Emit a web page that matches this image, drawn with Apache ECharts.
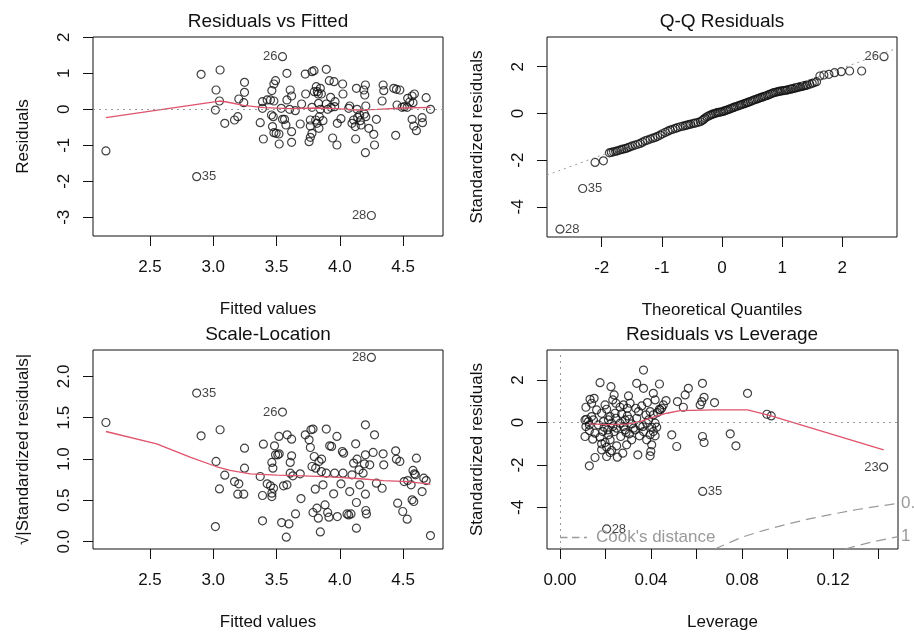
<!DOCTYPE html>
<html>
<head>
<meta charset="utf-8">
<script src="https://cdn.jsdelivr.net/npm/echarts@6/dist/echarts.min.js"></script>
<style>
  html, body { margin: 0; padding: 0; background: #fff; }
  #chart { width: 914px; height: 632px; }
</style>
</head>
<body>
<div id="chart"></div>
<script>
// Residuals vs Fitted
const rvfFitted = [2.152,2.869,3.547,4.249,2.904,3.054,3.022,3.049,3.017,3.091,
  3.168,3.194,3.202,3.247,3.247,3.241,3.371,3.389,3.389,3.396,
  3.426,3.452,3.479,3.463,3.479,3.492,3.460,3.474,3.468,3.479,
  3.497,3.519,3.521,3.547,3.563,3.574,3.537,3.582,3.582,3.608,
  3.619,3.603,3.648,3.619,3.619,3.687,3.698,3.727,3.730,3.757,
  3.767,3.780,3.767,3.767,3.780,3.780,3.796,3.798,3.814,3.822,
  3.830,3.846,3.854,3.832,3.846,3.838,3.819,3.835,3.809,3.867,
  3.893,3.893,3.904,3.917,3.927,3.930,3.943,3.954,3.962,3.959,
  3.977,3.980,4.022,4.025,4.009,4.070,4.078,4.096,4.109,4.122,
  4.131,4.136,4.141,4.125,4.157,4.162,4.168,4.189,4.197,4.202,
  4.205,4.194,4.205,4.202,4.229,4.268,4.274,4.289,4.334,4.342,
  4.347,4.426,4.447,4.474,4.441,4.452,4.492,4.510,4.532,4.536,
  4.552,4.571,4.578,4.589,4.571,4.584,4.605,4.650,4.653,4.682,4.716];
const rvfResid = [-1.157,-1.87,1.463,-2.95,0.972,1.093,0.537,0.231,-0.02,-0.389,
  -0.296,-0.204,0.287,0.75,0.472,0.185,-0.37,0.213,0.028,-0.824,
  0.26,0.26,0.231,0.52,0.704,0.796,-0.157,-0.204,-0.48,-0.648,
  -0.667,-0.685,-0.963,-0.278,-0.278,-0.435,0.028,1.0,0.26,0.537,
  0.37,0,-0.037,-0.62,-0.917,-0.407,0.148,0.981,0.426,-0.898,
  -0.778,-0.667,-0.463,-0.296,0.056,1.046,1.074,0.491,0.63,0.491,
  0.426,0.583,0.426,0.167,0,-0.204,-0.389,-0.528,-0.296,-0.315,
  1.111,0.148,0,0.796,0.333,0.056,-0.796,0.769,0.213,0.074,
  -0.991,-0.389,0.704,0.426,-0.259,0.028,0.093,-0.389,-0.296,-0.48,
  0.583,0,-0.222,-0.824,-0.157,-0.315,-0.435,0.537,0.398,0.676,
  0.093,-0.13,-0.204,-1.204,-0.528,-0.694,-0.991,-0.278,0.231,0.676,
  0.519,0.583,0.556,0.537,-0.722,0.12,0.056,0.074,0.056,0.306,
  0.204,0.37,0.185,0.426,-0.278,-0.463,-0.593,-0.231,-0.37,0.324,0];
const rvfSmoothX = [2.152,3.049,3.107,3.239,3.397,3.608,3.819,3.977,4.136,4.294,4.505,4.716];
const rvfSmoothY = [-0.231,0.231,0.204,0.111,0.046,0.019,0.037,0.019,-0.019,0,0.037,0.056];
const rvfIdNames = ['26','35','28'];
const rvfIdX = [3.547,2.869,4.249];
const rvfIdY = [1.463,-1.87,-2.95];

// Q-Q Residuals
const qqTheo = [-2.694,-2.317,-2.111,-1.972,
  -1.872,-1.84,-1.806,-1.77,-1.739,-1.70,-1.667,-1.63,-1.594,-1.56,
  -1.528,-1.49,-1.444,-1.40,-1.361,-1.32,-1.278,-1.24,-1.194,-1.15,
  -1.111,-1.07,-1.028,-0.99,-0.944,-0.90,-0.861,-0.82,-0.778,-0.74,
  -0.694,-0.65,-0.61,-0.583,-0.55,-0.52,-0.472,-0.44,-0.40,-0.361,
  -0.33,-0.306,-0.28,-0.25,-0.22,-0.19,-0.167,-0.14,-0.11,-0.083,
  -0.055,-0.028,0,0.028,0.055,0.083,0.11,0.14,0.167,0.194,
  0.22,0.25,0.28,0.306,0.33,0.36,0.39,0.417,0.44,0.47,
  0.50,0.528,0.555,0.585,0.61,0.639,0.665,0.695,0.72,0.75,
  0.78,0.805,0.835,0.861,0.89,0.92,0.945,0.972,1.00,1.03,
  1.055,1.083,1.11,1.14,1.165,1.194,1.22,1.25,1.28,1.306,
  1.335,1.36,1.39,1.417,1.46,1.5,1.535,1.572,
  1.628,1.694,1.778,1.872,1.983,2.122,2.322,2.694];
const qqStd = [-4.957,-3.214,-2.1,-2.029,
  -1.686,-1.665,-1.643,-1.62,-1.6,-1.57,-1.543,-1.52,-1.5,-1.46,
  -1.429,-1.39,-1.357,-1.32,-1.286,-1.23,-1.171,-1.14,-1.1,-1.06,
  -1.029,-0.98,-0.929,-0.87,-0.814,-0.76,-0.714,-0.68,-0.643,-0.61,
  -0.571,-0.545,-0.52,-0.5,-0.48,-0.46,-0.429,-0.41,-0.38,-0.357,
  -0.30,-0.257,-0.20,-0.143,-0.11,-0.07,-0.043,-0.02,0.005,0.029,
  0.045,0.058,0.071,0.095,0.12,0.143,0.17,0.20,0.228,0.257,
  0.28,0.307,0.333,0.357,0.38,0.405,0.43,0.457,0.48,0.51,
  0.54,0.571,0.595,0.62,0.645,0.671,0.695,0.72,0.745,0.771,
  0.80,0.83,0.86,0.886,0.905,0.925,0.94,0.957,0.968,0.978,
  0.99,1.0,1.018,1.035,1.053,1.071,1.09,1.107,1.125,1.143,
  1.16,1.178,1.196,1.214,1.25,1.286,1.32,1.357,
  1.6,1.643,1.671,1.743,1.786,1.814,1.814,2.429];
const qqLineX = [-2.91, 2.91];
const qqLineY = [-2.637, 2.787];
const qqIdNames = ['26','35','28'];
const qqIdX = [2.694,-2.317,-2.694];
const qqIdY = [2.429,-3.214,-4.957];

// Scale-Location
const slFitted = [4.249,2.869,3.547,2.152,2.904,3.054,3.022,3.049,3.017,3.091,
  3.168,3.194,3.202,3.247,3.247,3.241,3.371,3.389,3.389,3.396,
  3.426,3.452,3.463,3.463,3.471,3.484,3.492,3.510,3.521,3.463,
  3.476,3.519,3.540,3.555,3.577,3.584,3.582,3.598,3.608,3.619,
  3.619,3.608,3.629,3.650,3.687,3.693,3.727,3.757,3.767,3.772,
  3.788,3.780,3.788,3.798,3.809,3.806,3.819,3.830,3.835,3.846,
  3.854,3.856,3.867,3.883,3.893,3.893,3.904,3.914,3.920,3.935,
  3.951,3.959,3.977,3.980,4.009,4.020,4.030,4.025,4.057,4.070,
  4.078,4.088,4.096,4.109,4.125,4.131,4.131,4.136,4.152,4.157,
  4.184,4.194,4.202,4.202,4.202,4.205,4.210,4.236,4.263,4.274,
  4.289,4.334,4.342,4.347,4.441,4.447,4.457,4.474,4.497,4.532,
  4.536,4.563,4.571,4.578,4.589,4.605,4.597,4.650,4.663,4.682,
  4.716,4.508,4.584];
const slRoot = [2.230,1.798,1.568,1.442,1.281,1.354,0.97,0.638,0.182,0.804,
  0.727,0.574,0.699,1.131,0.889,0.574,0.788,0.558,0.251,1.18,
  0.699,0.675,0.545,0.958,0.889,1.16,1.051,1.051,1.063,0.586,
  0.646,1.273,0.23,0.675,0.053,1.293,0.687,0.214,0.958,1.038,
  1.24,0.828,0.796,0.335,0.82,0.521,1.293,1.232,1.139,1.354,
  1.362,0.909,0.352,1.03,0.889,0.634,0.404,0.283,0.97,0.117,
  0.848,0.998,0.687,0.444,1.362,0.828,0.352,0.295,1.16,1.152,
  0.578,0.828,1.273,0.303,0.699,1.091,1.071,0.828,0.335,0.323,
  0.606,0.335,0.808,0.95,1.184,0.473,0.162,0.998,0.869,0.687,
  0.828,0.941,1.051,1.414,0.574,0.376,0.335,0.929,1.079,1.293,
  0.707,0.646,1.063,0.929,1.099,0.998,0.465,0.97,0.364,0.271,
  0.739,0.687,0.505,0.861,0.82,1.01,0.808,0.606,0.768,0.739,
  0.073,0.727,0.485];
const slSmoothX = [2.152,2.553,2.817,3.022,3.133,3.292,3.503,3.714,3.925,4.136,4.347,4.532,4.716];
const slSmoothY = [1.333,1.184,1.022,0.909,0.861,0.82,0.804,0.796,0.784,0.764,0.739,0.727,0.695];
const slIdNames = ['28','35','26'];
const slIdX = [4.249,2.869,3.547];
const slIdY = [2.230,1.798,1.568];

// Residuals vs Leverage
const rvlLev = [0.1422,0.0627,0.0205,
  0.0367,0.0176,0.0224,0.0337,0.0367,0.0437,0.0564,0.0626,0.0824,0.0238,
  0.0301,0.0410,0.0550,0.0114,0.0132,0.0150,0.0139,0.0198,0.0232,0.0246,
  0.0264,0.0279,0.0296,0.0308,0.0333,0.0384,0.0418,0.0437,0.0454,0.0466,
  0.0516,0.0542,0.0616,0.0623,0.0633,0.0679,0.0909,0.0928,0.0117,0.0129,
  0.0147,0.0169,0.0191,0.0213,0.0227,0.0246,0.0264,0.0286,0.0296,0.0315,
  0.0337,0.0352,0.0378,0.0389,0.0396,0.0410,0.0418,0.0428,0.0440,0.0447,
  0.0110,0.0129,0.0144,0.0154,0.0176,0.0188,0.0198,0.0205,0.0213,0.0220,
  0.0227,0.0238,0.0249,0.0252,0.0267,0.0276,0.0286,0.0293,0.0305,0.0315,
  0.0323,0.0342,0.0349,0.0367,0.0381,0.0396,0.0403,0.0399,0.0396,0.0418,
  0.0491,0.0513,0.0626,0.0633,0.0748,0.0773,0.0183,0.0154,0.0129,0.0205,
  0.0220,0.0183,0.0110,0.0125,0.0114,0.0139,0.0161,0.0183,0.0205,0.0220,
  0.0242,0.0271,0.0279,0.0290,0.0330,0.0345,0.0359,0.0364,0.0381,0.0403,
  0.0425,0.0410,0.0194,0.0210,0.0232,0.0249,0.0305];
const rvlStd = [-2.10,-3.245,-5.016,
  2.476,1.881,1.693,1.85,1.614,1.818,1.614,1.85,1.379,1.301,
  1.254,1.379,1.301,0.721,1.097,1.144,0.909,0.831,1.066,0.909,
  0.721,0.831,0.674,0.909,0.674,0.94,1.066,0.627,0.831,1.034,
  0.987,0.721,0.831,0.987,1.191,0.94,0.392,0.313,0.157,-0.11,
  0.125,-0.11,0.047,0.125,-0.031,0.204,-0.031,0.125,0.313,-0.063,
  0.204,-0.157,0.361,0.125,0.517,0.361,-0.031,0.47,0.596,0.674,
  -0.658,-0.376,-0.784,-0.502,-0.69,-0.423,-0.94,-1.16,-0.58,-0.815,
  -1.317,-0.423,-1.097,-1.63,-0.658,-1.442,-0.345,-1.05,-0.533,-0.815,
  -0.266,-1.52,-0.627,-0.423,-0.815,-0.58,-1.05,-1.364,-1.567,-0.627,
  -0.58,-1.129,-0.658,-0.94,-0.533,-1.097,-1.285,-1.646,-2.038,-1.599,
  -1.411,-1.003,0.125,0.047,-0.188,0.282,0.596,0.439,0.627,0.282,
  0.439,0.408,-0.188,-0.47,-0.345,0.517,0.784,-0.188,-0.031,-0.219,
  -0.219,-0.423,-0.219,-0.345,-0.188,-0.266,0.157];
const rvlSmoothX = [0.0129,0.0205,0.0293,0.0352,0.0410,0.0469,0.0528,0.0674,0.0824,0.0924,0.1422];
const rvlSmoothY = [-0.063,-0.094,-0.078,0.047,0.251,0.439,0.564,0.596,0.596,0.329,-1.285];
const cookHalfX = [0.068,0.08,0.09,0.10,0.11,0.12,0.13,0.14,0.1485];
const cookHalfY = [-5.96,-5.40,-5.07,-4.78,-4.53,-4.31,-4.11,-3.94,-3.81];
const cookOneX = [0.1253,0.135,0.1485];
const cookOneY = [-5.96,-5.68,-5.38];
const rvlIdNames = ['23','35','28'];
const rvlIdX = [0.1422,0.0627,0.0205];
const rvlIdY = [-2.10,-3.245,-5.016];

// tick values
const fittedTicks = [2.5, 3.0, 3.5, 4.0, 4.5];
const residTicks = [-3, -2, -1, 0, 1, 2];
const qqXTicks = [-2, -1, 0, 1, 2];
const stdTicks = [-4, -2, 0, 2];
const rootTicks = [0, 0.5, 1.0, 1.5, 2.0];
const levTicks = [0, 0.02, 0.04, 0.06, 0.08, 0.10, 0.12, 0.14];
const levLabels = [0, 0.04, 0.08, 0.12];

const INK = '#111';
const GREY = '#9a9a9a';
const RED = '#DF536B';
const FONT = '"Liberation Sans", Arial, sans-serif';

const zip = (xs, ys) => xs.map((x, i) => [x, ys[i]]);

function xAxisOf(grid, min, max, ticks, labels, digits, name) {
  return {
    type: 'value', gridIndex: grid, min: min, max: max,
    name: name, nameLocation: 'middle', nameGap: 65, nameMoveOverlap: false,
    nameTextStyle: { fontSize: 17, color: INK, fontFamily: FONT },
    axisLine: { show: false, onZero: false },
    splitLine: { show: false },
    axisTick: { show: true, length: 10, customValues: ticks, lineStyle: { color: INK } },
    axisLabel: {
      customValues: labels, margin: 23, fontSize: 17, color: INK, fontFamily: FONT,
      formatter: v => Number(v).toFixed(digits)
    }
  };
}

function yAxisOf(grid, min, max, ticks, digits, name) {
  return {
    type: 'value', gridIndex: grid, min: min, max: max,
    name: name, nameLocation: 'middle', nameGap: 61, nameMoveOverlap: false,
    nameTextStyle: { fontSize: 17, color: INK, fontFamily: FONT },
    axisLine: { show: false, onZero: false },
    splitLine: { show: false },
    axisTick: { show: true, length: 10, customValues: ticks, lineStyle: { color: INK } },
    axisLabel: {
      customValues: ticks, rotate: 90, margin: 20, fontSize: 17, color: INK, fontFamily: FONT,
      formatter: v => Number(v).toFixed(digits)
    }
  };
}

function points(idx, data) {
  return {
    type: 'scatter', xAxisIndex: idx, yAxisIndex: idx, data: data,
    symbol: 'circle', symbolSize: 8, silent: true,
    itemStyle: { color: 'rgba(0,0,0,0)', borderColor: INK, borderWidth: 1.2 }
  };
}

function smooth(idx, data) {
  return {
    type: 'line', xAxisIndex: idx, yAxisIndex: idx, data: data,
    symbol: 'none', silent: true,
    lineStyle: { color: RED, width: 1.3 }
  };
}

function dotted(idx, lines) {
  return {
    type: 'line', xAxisIndex: idx, yAxisIndex: idx, data: [], silent: true,
    markLine: {
      silent: true, symbol: 'none', label: { show: false },
      lineStyle: { color: GREY, type: [2, 4], width: 1 },
      data: lines
    }
  };
}

// point ids go left of the point in the right half of the panel, right of it otherwise
function idLabels(idx, names, xs, ys, mid) {
  return {
    type: 'scatter', xAxisIndex: idx, yAxisIndex: idx, silent: true,
    symbol: 'circle', symbolSize: 8,
    itemStyle: { color: 'rgba(0,0,0,0)' },
    data: names.map((n, i) => ({
      name: n, value: [xs[i], ys[i]],
      label: { position: xs[i] > mid ? 'left' : 'right' }
    })),
    label: {
      show: true, formatter: '{b}', distance: 1,
      fontSize: 13, color: INK, fontFamily: FONT
    }
  };
}

function cookLine(data, tag) {
  return {
    type: 'line', name: "Cook's distance", xAxisIndex: 3, yAxisIndex: 3, data: data,
    symbol: 'none', silent: true,
    itemStyle: { color: GREY },
    lineStyle: { color: GREY, type: [10, 6], width: 1.2 },
    endLabel: { show: true, formatter: tag, distance: 3, fontSize: 17, color: GREY, fontFamily: FONT }
  };
}

const fitMin = 2.05, fitMax = 4.815;

const option = {
  animation: false,
  backgroundColor: '#fff',
  textStyle: { fontFamily: FONT },
  title: [
    { text: 'Residuals vs Fitted', left: 268, top: 12 },
    { text: 'Q-Q Residuals', left: 722, top: 12 },
    { text: 'Scale-Location', left: 268, top: 325 },
    { text: 'Residuals vs Leverage', left: 722, top: 325 }
  ].map(t => Object.assign(t, {
    textAlign: 'center', padding: 0,
    textStyle: { fontSize: 19, fontWeight: 'normal', color: INK, fontFamily: FONT }
  })),
  legend: {
    data: ["Cook's distance"], left: 560, top: 529, padding: 0,
    icon: 'path://M0,0H10V2H0Z M16,0H26V2H16Z M32,0H36V2H32Z',
    itemWidth: 35, itemHeight: 1.5, selectedMode: false,
    textStyle: { fontSize: 17, color: GREY, fontFamily: FONT }
  },
  grid: [
    { left: 93, top: 37, width: 350, height: 199 },
    { left: 547, top: 37, width: 350, height: 200 },
    { left: 93, top: 350, width: 350, height: 199 },
    { left: 547, top: 350, width: 351, height: 199 }
  ].map(g => Object.assign(g, {
    show: true, borderColor: INK, borderWidth: 1, backgroundColor: 'transparent',
    containLabel: false, outerBoundsMode: 'none'
  })),
  xAxis: [
    xAxisOf(0, fitMin, fitMax, fittedTicks, fittedTicks, 1, 'Fitted values'),
    xAxisOf(1, -2.91, 2.91, qqXTicks, qqXTicks, 0, 'Theoretical Quantiles'),
    xAxisOf(2, fitMin, fitMax, fittedTicks, fittedTicks, 1, 'Fitted values'),
    xAxisOf(3, -0.0057, 0.1485, levTicks, levLabels, 2, 'Leverage')
  ],
  yAxis: [
    yAxisOf(0, -3.52, 2.01, residTicks, 0, 'Residuals'),
    yAxisOf(1, -5.29, 3.27, stdTicks, 0, 'Standardized residuals'),
    yAxisOf(2, -0.09, 2.32, rootTicks, 1, '\u221A|Standardized residuals|'),
    yAxisOf(3, -5.96, 3.42, stdTicks, 0, 'Standardized residuals')
  ],
  series: [
    dotted(0, [{ yAxis: 0 }]),
    smooth(0, zip(rvfSmoothX, rvfSmoothY)),
    points(0, zip(rvfFitted, rvfResid)),
    idLabels(0, rvfIdNames, rvfIdX, rvfIdY, (fitMin + fitMax) / 2),

    {
      type: 'line', xAxisIndex: 1, yAxisIndex: 1, data: zip(qqLineX, qqLineY),
      symbol: 'none', silent: true, lineStyle: { color: GREY, type: [2, 4], width: 1 }
    },
    points(1, zip(qqTheo, qqStd)),
    idLabels(1, qqIdNames, qqIdX, qqIdY, 0),

    smooth(2, zip(slSmoothX, slSmoothY)),
    points(2, zip(slFitted, slRoot)),
    idLabels(2, slIdNames, slIdX, slIdY, (fitMin + fitMax) / 2),

    dotted(3, [{ yAxis: 0 }, { xAxis: 0 }]),
    cookLine(zip(cookHalfX, cookHalfY), '0.5'),
    cookLine(zip(cookOneX, cookOneY), '1'),
    smooth(3, zip(rvlSmoothX, rvlSmoothY)),
    points(3, zip(rvlLev, rvlStd)),
    idLabels(3, rvlIdNames, rvlIdX, rvlIdY, (-0.0057 + 0.1485) / 2)
  ]
};

const chart = echarts.init(document.getElementById('chart'), null, { renderer: 'canvas' });
chart.setOption(option);
</script>
</body>
</html>
